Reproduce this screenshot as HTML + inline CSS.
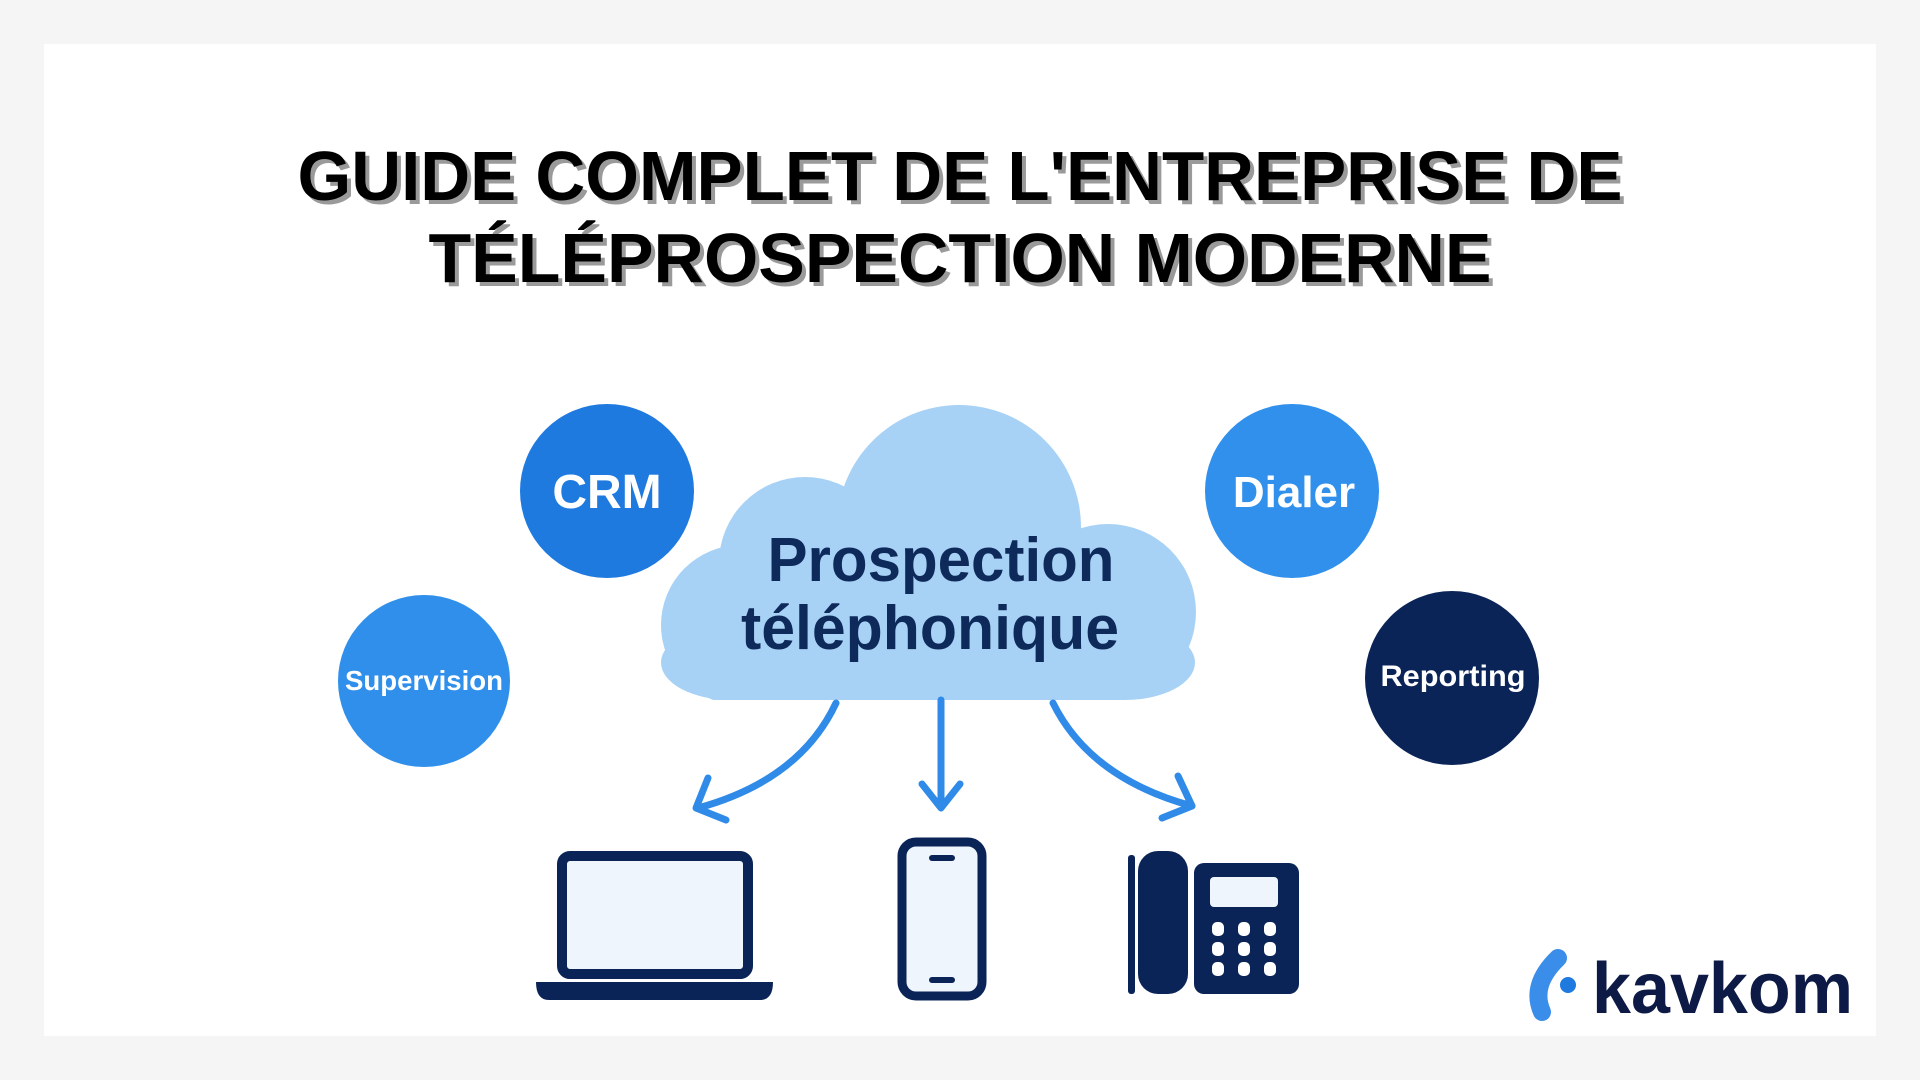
<!DOCTYPE html>
<html><head><meta charset="utf-8"><style>
html,body{margin:0;padding:0;background:#f5f5f5;}
svg{display:block}
</style></head><body>
<svg width="1920" height="1080" viewBox="0 0 1920 1080" xmlns="http://www.w3.org/2000/svg">
<defs><clipPath id="cc"><rect x="0" y="0" width="1920" height="700"/></clipPath></defs>
<rect x="0" y="0" width="1920" height="1080" fill="#f5f5f5"/>
<rect x="44" y="44" width="1832" height="992" fill="#ffffff"/>
<g font-family="Liberation Sans, sans-serif" font-weight="bold" font-size="70" text-anchor="middle">
<text x="964" y="204" fill="#9a9a9a" textLength="1325" lengthAdjust="spacingAndGlyphs">GUIDE COMPLET DE L'ENTREPRISE DE</text>
<text x="960" y="200" fill="#000" textLength="1325" lengthAdjust="spacingAndGlyphs">GUIDE COMPLET DE L'ENTREPRISE DE</text>
<text x="964" y="286" fill="#9a9a9a" textLength="1063" lengthAdjust="spacingAndGlyphs">TÉLÉPROSPECTION MODERNE</text>
<text x="960" y="282" fill="#000" textLength="1063" lengthAdjust="spacingAndGlyphs">TÉLÉPROSPECTION MODERNE</text>
</g>
<circle cx="607" cy="491" r="87" fill="#1f7ae0"/>
<circle cx="424" cy="681" r="86" fill="#2f8fea"/>
<circle cx="1292" cy="491" r="87" fill="#3090ec"/>
<circle cx="1452" cy="678" r="87" fill="#0b2457"/>
<g font-family="Liberation Sans, sans-serif" font-weight="bold" fill="#fff" text-anchor="middle">
<text x="607" y="508" font-size="48">CRM</text>
<text x="424" y="690" font-size="28" textLength="158" lengthAdjust="spacingAndGlyphs">Supervision</text>
<text x="1294" y="507" font-size="44">Dialer</text>
<text x="1453" y="686" font-size="30" textLength="145" lengthAdjust="spacingAndGlyphs">Reporting</text>
</g>
<g fill="#a8d2f5" clip-path="url(#cc)">
<circle cx="959" cy="527" r="122"/>
<circle cx="805" cy="563" r="86"/>
<circle cx="741" cy="625" r="80"/>
<circle cx="1108" cy="612" r="88"/>
<rect x="741" y="560" width="370" height="140"/>
<rect x="661" y="625" width="534" height="75" rx="70"/>
</g>
<g font-family="Liberation Sans, sans-serif" font-weight="bold" fill="#0d2a5a" text-anchor="middle" font-size="62">
<text x="941" y="581" textLength="347" lengthAdjust="spacingAndGlyphs">Prospection</text>
<text x="930" y="649" textLength="378" lengthAdjust="spacingAndGlyphs">téléphonique</text>
</g>
<g stroke="#2f8ae8" stroke-width="7" fill="none" stroke-linecap="round" stroke-linejoin="round">
<path d="M836 703 Q800 780 698 808"/>
<path d="M708 778 L696 808 L726 820"/>
<path d="M941 700 L941 806"/>
<path d="M922 784 L941 808 L960 784"/>
<path d="M1053 703 Q1090 778 1192 806"/>
<path d="M1178 776 L1192 806 L1162 818"/>
</g>
<rect x="562" y="856" width="186" height="118" rx="8" fill="#eef5fd" stroke="#0b2457" stroke-width="10"/>
<path d="M536 982 H773 Q773 1000 760 1000 H549 Q536 1000 536 982 Z" fill="#0b2457"/>
<rect x="902" y="842" width="80" height="154" rx="14" fill="#eef5fd" stroke="#0b2457" stroke-width="9"/>
<rect x="929" y="855" width="26" height="6" rx="3" fill="#0b2457"/>
<rect x="929" y="977" width="26" height="6" rx="3" fill="#0b2457"/>
<rect x="1128" y="855" width="7" height="139" rx="3" fill="#0b2457"/>
<rect x="1138" y="851" width="50" height="143" rx="20" fill="#0b2457"/>
<rect x="1194" y="863" width="105" height="131" rx="10" fill="#0b2457"/>
<rect x="1210" y="877" width="68" height="30" rx="4" fill="#eef5fd"/>
<g fill="#fff">
<rect x="1212" y="922" width="12" height="14" rx="5"/><rect x="1238" y="922" width="12" height="14" rx="5"/><rect x="1264" y="922" width="12" height="14" rx="5"/>
<rect x="1212" y="942" width="12" height="14" rx="5"/><rect x="1238" y="942" width="12" height="14" rx="5"/><rect x="1264" y="942" width="12" height="14" rx="5"/>
<rect x="1212" y="962" width="12" height="14" rx="5"/><rect x="1238" y="962" width="12" height="14" rx="5"/><rect x="1264" y="962" width="12" height="14" rx="5"/>
</g>
<path d="M1558 958 Q1530 985 1542 1012" stroke="#3a8de8" stroke-width="18" fill="none" stroke-linecap="round"/>
<circle cx="1568" cy="985" r="8" fill="#1f7ae0"/>
<text x="1592" y="1013" font-family="Liberation Sans, sans-serif" font-weight="bold" font-size="72" fill="#0d1a45" textLength="261" lengthAdjust="spacingAndGlyphs">kavkom</text>
</svg>
</body></html>
